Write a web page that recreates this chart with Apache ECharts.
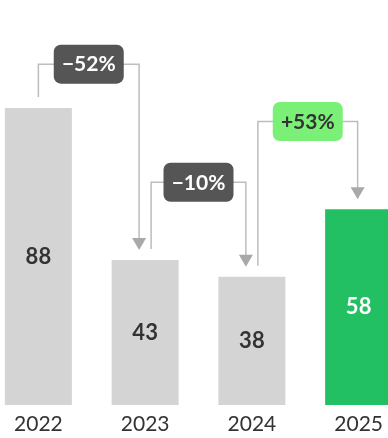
<!DOCTYPE html>
<html>
<head>
<meta charset="utf-8">
<script src="https://cdn.jsdelivr.net/npm/echarts@6/dist/echarts.min.js"></script>
<style>
  html, body { margin: 0; padding: 0; background: #fff; }
  #chart { width: 388px; height: 438px; }
</style>
</head>
<body>
<div id="chart"></div>
<script>
// Yearly totals
const years = ['2022', '2023', '2024', '2025'];
const totals = [88, 43, 38, 58];
// Year-over-year change shown on each bracket
const changeLabels = ['\u221252%', '\u221210%', '+53%'];
const changeIsGain = [false, false, true];

const FONT = 'Lato, "Noto Sans", sans-serif';
const GREY_BAR = '#d4d4d4';
const GREEN_BAR = '#22c063';

// Height (in axis units) of each bracket's horizontal run
const bracketLevels = [101, 66, 84];

const chart = echarts.init(document.getElementById('chart'), null, { renderer: 'canvas' });

const lastIndex = totals.length - 1;

const barData = totals.map((v, i) => ({
  value: v,
  itemStyle: { color: i === lastIndex ? GREEN_BAR : GREY_BAR },
  label: { color: i === lastIndex ? '#ffffff' : '#333333' }
}));

const bracketData = changeLabels.map((t, i) => [i, i + 1, bracketLevels[i]]);

function renderBracket(params, api) {
  const from = api.value(0);
  const to = api.value(1);
  const level = api.value(2);
  const fromTop = api.coord([from, totals[from]]);
  const toTop = api.coord([to, totals[to]]);
  const levelY = api.coord([from, level])[1];
  const outX = fromTop[0] + (from === 0 ? 0 : 6);
  const inX = toTop[0] + (to === lastIndex ? -1 : -6);
  const startY = fromTop[1] - 11;
  const tipY = toTop[1] - 10;
  const headH = 12, headW = 7;
  const lineStyle = { stroke: '#bdbdbd', lineWidth: 1.5, fill: null };
  const gain = changeIsGain[params.dataIndex];
  const cx = (outX + inX) / 2;
  const boxW = 70, boxH = 39;
  return {
    type: 'group',
    children: [
      {
        type: 'polyline',
        shape: { points: [[outX, startY], [outX, levelY], [inX, levelY], [inX, tipY - headH + 1]] },
        style: lineStyle
      },
      {
        type: 'polygon',
        shape: { points: [[inX - headW, tipY - headH], [inX + headW, tipY - headH], [inX, tipY]] },
        style: { fill: '#a9a9a9' }
      },
      {
        type: 'rect',
        shape: { x: cx - boxW / 2, y: levelY - boxH / 2, width: boxW, height: boxH, r: 7 },
        style: { fill: gain ? '#7bf077' : '#555555' }
      },
      {
        type: 'text',
        x: cx,
        y: levelY + 0.5,
        style: {
          text: changeLabels[params.dataIndex],
          fill: gain ? '#333333' : '#ffffff',
          font: 'bold 21px ' + FONT,
          align: 'center',
          verticalAlign: 'middle'
        }
      }
    ]
  };
}

chart.setOption({
  animation: false,
  grid: {
    left: -15, right: -24, top: 108, bottom: 33,
    containLabel: false,
    outerBoundsMode: 'none'
  },
  xAxis: {
    type: 'category',
    data: years,
    axisLine: { show: false },
    axisTick: { show: false },
    axisLabel: { color: '#333333', fontSize: 21, fontFamily: FONT, margin: 9 }
  },
  yAxis: {
    type: 'value',
    min: 0,
    max: 88,
    show: false,
    splitLine: { show: false }
  },
  series: [
    {
      type: 'bar',
      data: barData,
      barWidth: 67,
      label: {
        show: true,
        position: 'inside',
        fontSize: 22,
        fontWeight: 'bold',
        fontFamily: FONT
      }
    },
    {
      type: 'custom',
      coordinateSystem: 'cartesian2d',
      clip: false,
      encode: { x: 0, y: 2 },
      data: bracketData,
      renderItem: renderBracket,
      z: 5
    }
  ]
});
</script>
</body>
</html>
